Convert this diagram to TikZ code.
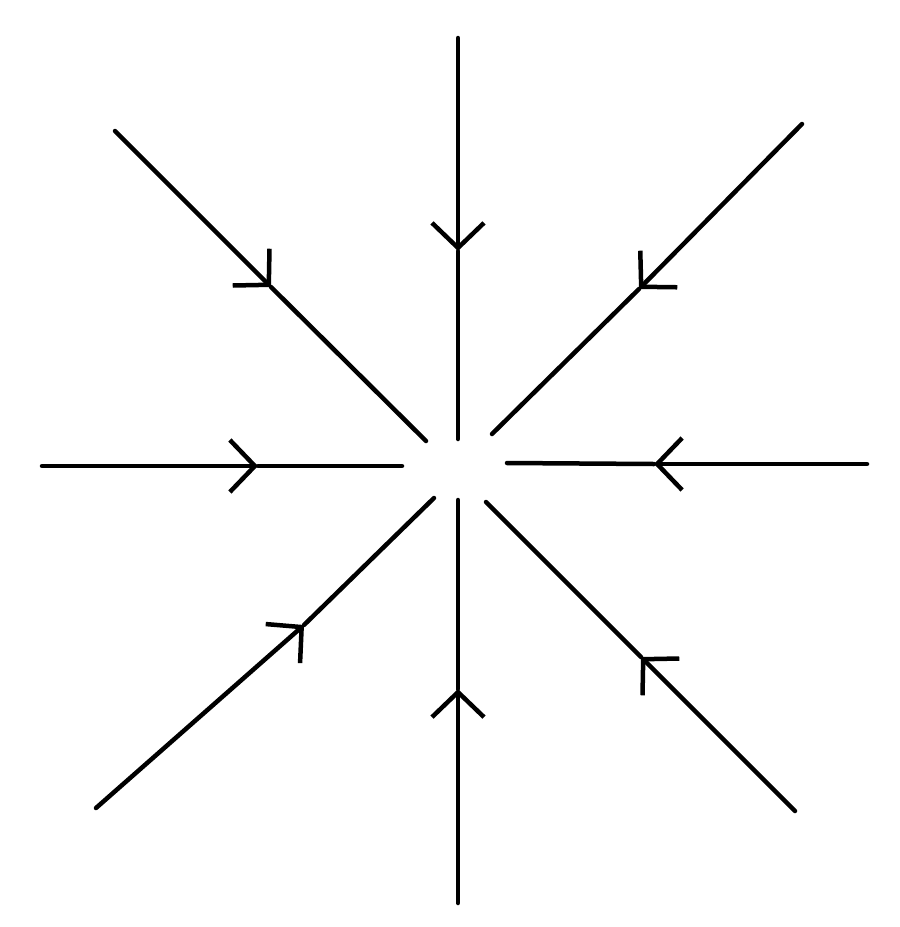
\documentclass[tikz,border=0pt]{standalone}
\usetikzlibrary{arrows.meta}
\tikzset{
  ray/.style={line width=4.5pt, line cap=round},
  inarrow/.style={ray, -{Straight Barb[length=25pt, width=52pt, line width=4.5pt]}}
}
\begin{document}
\begin{tikzpicture}[x=1pt, y=-1pt]
\useasboundingbox (0,0) rectangle (900,927);
% top
\coordinate (t1) at (458,38);  \coordinate (tm) at (458,251); \coordinate (t2) at (458,439);
% bottom
\coordinate (b1) at (458,903); \coordinate (bm) at (458,689); \coordinate (b2) at (458,500);
% left
\coordinate (l1) at (42,466);  \coordinate (lm) at (258,466); \coordinate (l2) at (402,466);
% right
\coordinate (r1) at (867,464); \coordinate (rm) at (654,464); \coordinate (r2) at (507,463);
% top-left
\coordinate (tl1) at (115,131); \coordinate (tlm) at (271,287); \coordinate (tl2) at (426,441);
% top-right
\coordinate (tr1) at (802,124); \coordinate (trm) at (639,289); \coordinate (tr2) at (492,434);
% bottom-left
\coordinate (bl1) at (96,808);  \coordinate (blm) at (304,625); \coordinate (bl2) at (434,498);
% bottom-right
\coordinate (br1) at (795,811); \coordinate (brm) at (641,657); \coordinate (br2) at (486,502);

\foreach \n in {t,b,l,r,tl,tr,bl,br}{
  \draw[inarrow] (\n1) -- (\n m);
  \draw[ray] (\n m) -- (\n2);
}
\end{tikzpicture}
\end{document}
